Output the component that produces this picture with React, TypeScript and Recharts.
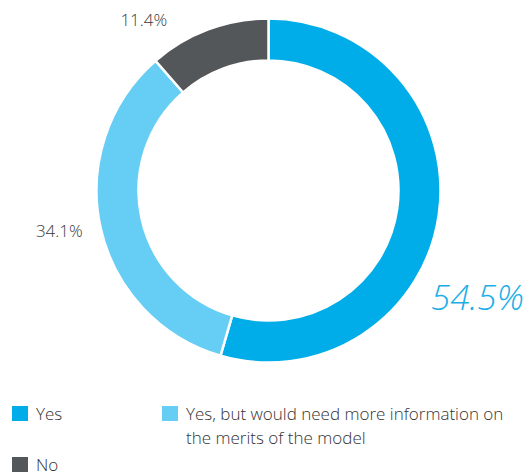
import { Cell, Legend, Pie, PieChart } from "recharts";

const categories = ["Yes", "Yes, but would need more information on the merits of the model", "No"];
const shares = [54.5, 34.1, 11.4];
const labels = ["54.5%", "34.1%", "11.4%"];
const colors = ["#00ade9", "#66cdf4", "#54575a"];

// label placement tweaks per slice (degrees off the mid angle, distance from centre)
const labelShift = [
	{ angle: -18.7, dist: 234, size: 35, color: "#1aaee8", italic: true },
	{ angle: -1.5, dist: 213, size: 17, color: "#3a3a3a", italic: false },
	{ angle: 15.5, dist: 212, size: 17, color: "#3a3a3a", italic: false },
];

const data = categories.map((name, i) => ({ name, value: shares[i], label: labels[i] }));

const FONT = "'Open Sans', 'Segoe UI', sans-serif";
const RAD = Math.PI / 180;

function renderLabel(props: any) {
	const { cx, cy, midAngle, index } = props;
	const s = labelShift[index];
	const a = (midAngle + s.angle) * RAD;
	const x = cx + s.dist * Math.cos(a);
	const y = cy - s.dist * Math.sin(a);
	return (
		<text
			x={x}
			y={y}
			textAnchor="middle"
			dominantBaseline="central"
			fill={s.color}
			fontSize={s.size}
			fontWeight={300}
			fontStyle={s.italic ? "italic" : "normal"}
			fontFamily={FONT}
		>
			{data[index].label}
		</text>
	);
}

function LegendBox() {
	const pos = [
		{ left: 12, top: 8 },
		{ left: 162, top: 8 },
		{ left: 12, top: 59 },
	];
	return (
		<div style={{ position: "relative", width: 527, height: 80, fontFamily: FONT }}>
			{data.map((d, i) => (
				<div key={d.name} style={{ position: "absolute", ...pos[i], display: "flex" }}>
					<div style={{ width: 16, height: 15, background: colors[i], flex: "none" }} />
					<div
						style={{
							marginLeft: 8,
							marginTop: -4,
							width: i === 1 ? 335 : 100,
							fontSize: 17,
							fontWeight: 300,
							lineHeight: "24px",
							color: "#333",
							textAlign: "left",
						}}
					>
						{d.name}
					</div>
				</div>
			))}
		</div>
	);
}

export default function App() {
	return (
		<div style={{ position: "absolute", left: 0, top: 0, width: 527, height: 473, background: "#fff" }}>
			<PieChart width={527} height={473} margin={{ top: 0, right: 0, bottom: 0, left: 0 }}>
				<Pie
					data={data}
					dataKey="value"
					nameKey="name"
					cx={268.5}
					cy={190.5}
					innerRadius={130}
					outerRadius={172}
					startAngle={90}
					endAngle={-270}
					stroke="#fff"
					strokeWidth={2.5}
					label={renderLabel}
					labelLine={false}
					isAnimationActive={false}
				>
					{data.map((d, i) => (
						<Cell key={d.name} fill={colors[i]} />
					))}
				</Pie>
				<Legend
					content={() => <LegendBox />}
					wrapperStyle={{ position: "absolute", left: 0, top: 398, width: 527 }}
				/>
			</PieChart>
		</div>
	);
}
